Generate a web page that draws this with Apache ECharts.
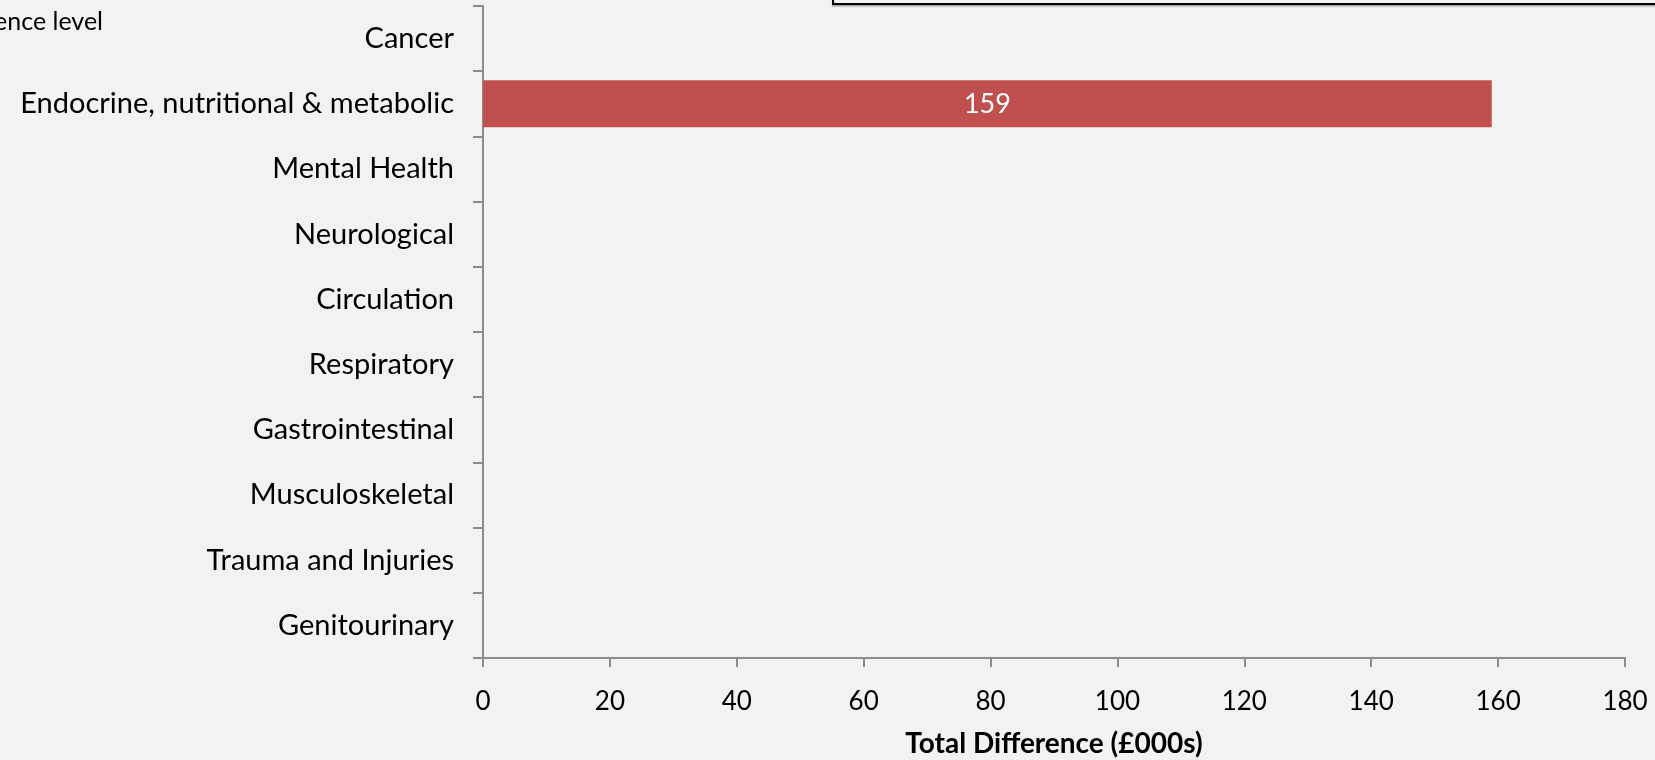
<!DOCTYPE html>
<html>
<head>
<meta charset="utf-8">
<script src="https://cdn.jsdelivr.net/npm/echarts@6/dist/echarts.min.js"></script>
<style>
  html, body { margin: 0; padding: 0; background: #f2f2f2; }
  #chart { width: 1655px; height: 760px; }
</style>
</head>
<body>
<div id="chart"></div>
<script>
// Disease categories, top to bottom
const categories = [
  'Cancer',
  'Endocrine, nutritional & metabolic',
  'Mental Health',
  'Neurological',
  'Circulation',
  'Respiratory',
  'Gastrointestinal',
  'Musculoskeletal',
  'Trauma and Injuries',
  'Genitourinary'
];
// Total difference in £000s (blank where no significant difference)
const totalDifference = [null, 159, null, null, null, null, null, null, null, null];
const xTicks = { min: 0, max: 180, interval: 20 };
const xAxisTitle = 'Total Difference (£000s)';
const noteText = 'ence level';

const FONT = 'Lato';
const chart = echarts.init(document.getElementById('chart'));
chart.setOption({
  backgroundColor: '#f2f2f2',
  animation: false,
  textStyle: { fontFamily: FONT },
  grid: { left: 483, right: 30, top: 6, bottom: 102, containLabel: false, outerBoundsMode: 'none' },
  xAxis: {
    type: 'value',
    min: xTicks.min, max: xTicks.max, interval: xTicks.interval,
    name: xAxisTitle,
    nameLocation: 'middle',
    nameGap: 72,
    nameTextStyle: { fontFamily: FONT, fontSize: 28, fontWeight: 'bold', color: '#000' },
    axisLine: { show: true, lineStyle: { color: '#8c8c8c', width: 2 } },
    axisTick: { show: true, length: 9, lineStyle: { color: '#8c8c8c', width: 2 } },
    axisLabel: { fontFamily: FONT, fontSize: 26, color: '#000', margin: 31 },
    splitLine: { show: false }
  },
  yAxis: {
    type: 'category',
    data: categories,
    inverse: true,
    axisLine: { show: true, lineStyle: { color: '#8c8c8c', width: 2 } },
    axisTick: { show: true, length: 10, lineStyle: { color: '#8c8c8c', width: 2 } },
    axisLabel: { fontFamily: FONT, fontSize: 29, color: '#000', margin: 29 }
  },
  series: [{
    type: 'bar',
    data: totalDifference,
    barWidth: 47,
    itemStyle: { color: '#c0504d' },
    label: {
      show: true,
      position: 'inside',
      color: '#fff',
      fontFamily: FONT,
      fontSize: 27,
      formatter: p => (p.value == null ? '' : String(p.value))
    }
  }],
  graphic: [
    {
      type: 'text',
      x: 103, y: 22,
      style: { text: noteText, fontFamily: FONT, fontSize: 25, fill: '#000', align: 'right', verticalAlign: 'middle' }
    },
    {
      type: 'rect',
      shape: { x: 833, y: -60, width: 900, height: 64 },
      style: { fill: 'none', stroke: '#000', lineWidth: 2, shadowColor: 'rgba(0,0,0,0.35)', shadowOffsetY: 1.5, shadowBlur: 1 }
    }
  ]
});
</script>
</body>
</html>
